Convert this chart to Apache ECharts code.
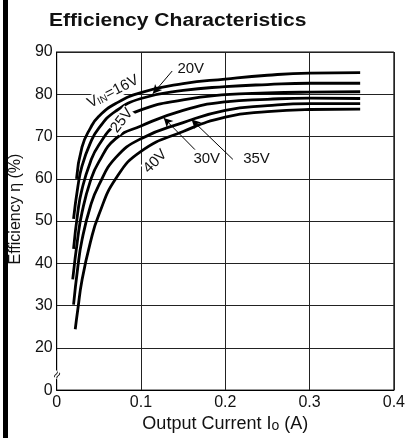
<!DOCTYPE html>
<html><head><meta charset="utf-8">
<script src="https://cdn.jsdelivr.net/npm/echarts@6/dist/echarts.min.js"></script>
<style>html,body{margin:0;padding:0;background:#fff}#c{width:408px;height:438px}</style>
</head><body><div id="c"></div>
<script>
// ---- data ----
const xTickLabels = ['0', '0.1', '0.2', '0.3', '0.4'];
const yTickLabels = ['0', '20', '30', '40', '50', '60', '70', '80', '90']; // bottom tick is an axis break shown as 0
const seriesNames = ['16V', '20V', '25V', '30V', '35V', '40V'];
const v16 = [[0.0235,60],[0.03,67.5],[0.04,72],[0.05,74.8],[0.07,77.8],[0.1,80.4],[0.15,82.5],[0.2,83.6],[0.25,84.5],[0.3,85.0],[0.36,85.1]];
const v20 = [[0.02,50.5],[0.025,58],[0.03,63],[0.04,68.5],[0.05,72],[0.07,76],[0.1,79],[0.15,80.9],[0.2,81.8],[0.25,82.3],[0.3,82.6],[0.36,82.6]];
const v25 = [[0.02,43.4],[0.025,52],[0.03,57.5],[0.04,64],[0.05,68],[0.07,72.8],[0.1,76.3],[0.15,78.7],[0.2,79.9],[0.25,80.3],[0.3,80.5],[0.36,80.6]];
const v30 = [[0.019,36.2],[0.025,46],[0.03,52],[0.04,59.5],[0.05,64],[0.07,69.5],[0.1,72.5],[0.15,76.2],[0.2,78.2],[0.25,78.8],[0.3,79.1],[0.36,79.0]];
const v35 = [[0.02,30.2],[0.025,39],[0.03,45.5],[0.04,53.5],[0.05,58.5],[0.07,65],[0.1,69.5],[0.15,73.3],[0.2,76.2],[0.25,77.3],[0.3,77.8],[0.36,77.8]];
const v40 = [[0.022,24.4],[0.025,29],[0.03,36],[0.04,45],[0.05,51.5],[0.07,60],[0.1,66.5],[0.15,71.2],[0.2,74.6],[0.25,75.9],[0.3,76.4],[0.36,76.5]];
// annotation arrows [from, to] in data units
const arrow20 = [[0.137,85.5],[0.114,80.1]];
const arrow30 = [[0.164,66.9],[0.127,74.4]];
const arrow35 = [[0.209,64.6],[0.160,74.0]];
// annotation label anchors (data units) and rotations (deg)
const labelPos = {
  v16: [0.0668, 80.6, 27],
  v20: [0.159, 86.0, 0],
  v25: [0.0774, 73.8, 52],
  v40: [0.117, 64.1, 45],
  v30: [0.178, 64.6, 0],
  v35: [0.237, 64.6, 0]
};

const FONT = '"Liberation Sans", Arial, Helvetica, sans-serif';
const chart = echarts.init(document.getElementById('c'), null, {renderer: 'canvas'});

function lineSeries(name, data) {
  return {
    name, type: 'line', data, smooth: 0.5,
    showSymbol: false, symbol: 'none',
    lineStyle: {color: '#000', width: 2.8}, z: 3, silent: true
  };
}
function arrowSeries(pair) {
  return {
    type: 'line', data: [], silent: true,
    markLine: {
      silent: true, symbol: ['none', 'arrow'], symbolSize: [7, 9],
      lineStyle: {color: '#000', width: 1, type: 'solid'}, label: {show: false},
      data: [[{coord: pair[0]}, {coord: pair[1]}]]
    }
  };
}

const yVals = [10,20,30,40,50,60,70,80,90];
chart.setOption({
  animation: false,
  backgroundColor: '#fff',
  grid: {left: 55, right: 12, top: 52, bottom: 46, show: true, borderColor: '#000', borderWidth: 1},
  xAxis: {
    type: 'value', min: 0, max: 0.4, interval: 0.1,
    axisLine: {show: true, lineStyle: {color: '#000', width: 1}},
    axisTick: {show: false},
    splitLine: {show: true, lineStyle: {color: '#222', width: 1}},
    axisLabel: {
      fontFamily: FONT, fontSize: 16, color: '#111', margin: 4,
      formatter: v => xTickLabels[Math.round(v * 10)]
    },
    name: 'Output Current I{s|o} (A)', nameLocation: 'middle', nameGap: 23,
    nameTextStyle: {fontFamily: FONT, fontSize: 18, color: '#111',
      rich: {s: {fontFamily: FONT, fontSize: 14, color: '#111', padding: [4, 0, 0, 0]}}}
  },
  yAxis: {
    type: 'value', min: 10, max: 90, interval: 10,
    axisLine: {show: true, lineStyle: {color: '#000', width: 1}},
    axisTick: {show: false},
    splitLine: {show: true, lineStyle: {color: '#222', width: 1}},
    axisLabel: {
      fontFamily: FONT, fontSize: 16, color: '#111', margin: 4,
      formatter: v => yTickLabels[yVals.indexOf(Math.round(v))]
    },
    name: 'Efficiency η (%)', nameLocation: 'middle', nameGap: 23,
    nameTextStyle: {fontFamily: FONT, fontSize: 16, color: '#111', padding: [0, 0, 0, 24]}
  },
  series: [
    lineSeries(seriesNames[0], v16), lineSeries(seriesNames[1], v20), lineSeries(seriesNames[2], v25),
    lineSeries(seriesNames[3], v30), lineSeries(seriesNames[4], v35), lineSeries(seriesNames[5], v40),
    arrowSeries(arrow20), arrowSeries(arrow30), arrowSeries(arrow35)
  ]
});

function px(p) { return chart.convertToPixel({gridIndex: 0}, [p[0], p[1]]); }
function txt(key, text, rich) {
  const p = labelPos[key];
  const c = px(p);
  return {
    type: 'text', x: c[0], y: c[1], rotation: p[2] * Math.PI / 180, z: 10,
    style: {text, fontFamily: FONT, fontSize: 15, fill: '#111', align: 'center', verticalAlign: 'middle',
      backgroundColor: key === 'v16' || key === 'v25' || key === 'v40' ? '#fff' : null, rich}
  };
}
const brk = px([0, 13.5]);
chart.setOption({
  graphic: [
    {type: 'rect', shape: {x: 3, y: 0, width: 5, height: 438}, style: {fill: '#000'}, z: 10},
    {type: 'text', x: 49, y: 21, scaleX: 1.17, z: 10,
      style: {text: 'Efficiency Characteristics', fontFamily: FONT, fontWeight: 'bold', fontSize: 18, fill: '#111', align: 'left', verticalAlign: 'middle'}},
    txt('v16', '{a|V}{b|IN}{a|=16V}', {a: {fontFamily: FONT, fontSize: 15, fill: '#111'}, b: {fontFamily: FONT, fontSize: 10, fill: '#111', padding: [5, 0, 0, 0]}}),
    txt('v20', '20V'), txt('v25', '25V'), txt('v40', '40V'), txt('v30', '30V'), txt('v35', '35V'),
    {type: 'text', x: brk[0] + 1, y: brk[1], rotation: 60 * Math.PI / 180, z: 10,
      style: {text: '≈', fontFamily: FONT, fontSize: 13, fill: '#000', align: 'center', verticalAlign: 'middle', backgroundColor: '#fff'}}
  ]
});
</script></body></html>
